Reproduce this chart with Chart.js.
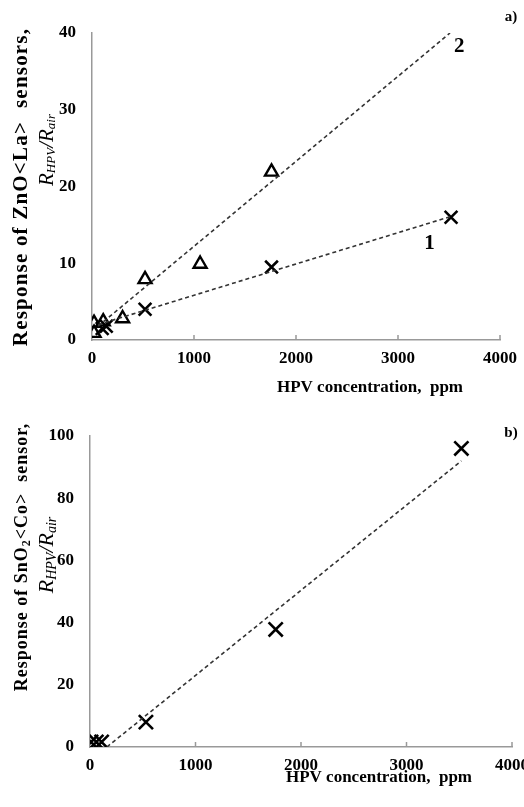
<!DOCTYPE html>
<html>
<head>
<meta charset="utf-8">
<script src="https://cdn.jsdelivr.net/npm/chart.js@4.4.0/dist/chart.umd.min.js"></script>
<style>
  body { margin: 0; background: #fff; overflow: hidden; }
  .wrap { position: relative; width: 524px; overflow: hidden; }
</style>
</head>
<body>
<div class="wrap" style="height:400px"><canvas id="chartA" width="524" height="400"></canvas></div>
<div class="wrap" style="height:407px"><canvas id="chartB" width="570" height="407"></canvas></div>
<script>
// panel a) ZnO<La> sensors
const xTicks = [0, 1000, 2000, 3000, 4000];
const a1X = [100, 140, 520, 1760, 3520];
const a1Y = [1.5, 1.8, 4.0, 9.5, 16.0];
const a2X = [20, 20, 110, 300, 520, 1060, 1760];
const a2Y = [0.9, 2.2, 2.4, 2.8, 7.9, 9.9, 21.9];
const fitA1X = [60, 3520];
const fitA1Y = [2.0, 16.1];
const fitA2X = [60, 3510];
const fitA2Y = [1.8, 40.0];

// panel b) SnO2<Co> sensor
const bX = [10, 60, 110, 530, 1760, 3520];
const bY = [1.6, 1.6, 1.6, 8.0, 37.8, 96.0];
const fitBX = [160, 3520];
const fitBY = [0, 92];

const SERIF = '"Liberation Serif", "DejaVu Serif", serif';

function pts(xs, ys) {
  return xs.map((x, i) => ({ x: x, y: ys[i] }));
}

function drawRich(ctx, parts, cx, cy, spacing) {
  // measure all parts then draw centered on (cx, cy)
  ctx.letterSpacing = (spacing || 0) + 'px';
  let total = 0;
  parts.forEach(p => {
    ctx.font = p.font;
    p.w = ctx.measureText(p.t).width;
    total += p.w;
  });
  let x = cx - total / 2;
  parts.forEach(p => {
    ctx.font = p.font;
    ctx.fillText(p.t, x, cy + (p.dy || 0));
    x += p.w;
  });
  ctx.letterSpacing = '0px';
}

function makePlugin(opts) {
  return {
    id: 'extras',
    afterDraw(chart) {
      const ctx = chart.ctx;
      const xs = chart.scales.x;
      const ys = chart.scales.y;
      ctx.save();
      // small inner tick marks on x axis
      ctx.strokeStyle = '#999';
      ctx.lineWidth = 1.5;
      xTicks.slice(1).forEach(v => {
        const px = xs.getPixelForValue(v);
        ctx.beginPath();
        ctx.moveTo(px, ys.bottom);
        ctx.lineTo(px, ys.bottom - 5);
        ctx.stroke();
      });

      ctx.fillStyle = '#000';
      ctx.textBaseline = 'middle';
      // x axis title
      drawRich(ctx, [{ t: 'HPV concentration,  ppm', font: 'bold 17px ' + SERIF }], opts.xTitleX, opts.xTitleY);

      // y axis title (rotated)
      ctx.save();
      ctx.translate(opts.yTitleX1, opts.yTitleY1);
      ctx.rotate(-Math.PI / 2);
      drawRich(ctx, opts.yLine1, 0, 0, opts.spacing);
      ctx.restore();
      ctx.save();
      ctx.translate(opts.yTitleX2, opts.yTitleY2);
      ctx.rotate(-Math.PI / 2);
      const it = 'italic ' + opts.rSize + 'px ' + SERIF;
      const sb = 'italic ' + Math.round(opts.rSize * 0.62) + 'px ' + SERIF;
      drawRich(ctx, [
        { t: 'R', font: it }, { t: 'HPV', font: sb, dy: 5 },
        { t: '/R', font: it }, { t: 'air', font: sb, dy: 5 }
      ], 0, 0);
      ctx.restore();

      // panel letter
      drawRich(ctx, [{ t: opts.letter, font: 'bold 15px ' + SERIF }], opts.letterX, opts.letterY);

      // curve labels
      (opts.curveLabels || []).forEach(l => {
        drawRich(ctx, [{ t: l.t, font: 'bold 21px ' + SERIF }], xs.getPixelForValue(l.x), ys.getPixelForValue(l.y));
      });
      ctx.restore();
    }
  };
}

function scalesFor(yMax, yStep, yWidth) {
  return {
    x: {
      type: 'linear', min: 0, max: 4000,
      afterBuildTicks: s => { s.ticks = xTicks.map(v => ({ value: v })); },
      afterFit: s => { s.height = 60; },
      grid: { display: false },
      border: { color: '#999', width: 1.5 },
      ticks: {
        color: '#000', padding: 0, maxRotation: 0,
        callback: v => String(v),
        font: { family: SERIF, size: 17, weight: 'bold' }
      }
    },
    y: {
      type: 'linear', min: 0, max: yMax,
      ticks: {
        stepSize: yStep, color: '#000', padding: 8,
        callback: v => String(v),
        font: { family: SERIF, size: 17, weight: 'bold' }
      },
      afterFit: s => { s.width = yWidth; },
      grid: { display: false },
      border: { color: '#999', width: 1.5 }
    }
  };
}

const fitStyle = {
  type: 'line', borderColor: '#333', borderWidth: 1.6, borderDash: [4, 3],
  pointRadius: 0, fill: false, showLine: true
};

new Chart(document.getElementById('chartA'), {
  type: 'scatter',
  data: {
    datasets: [
      Object.assign({ data: pts(fitA2X, fitA2Y) }, fitStyle),
      Object.assign({ data: pts(fitA1X, fitA1Y) }, fitStyle),
      {
        data: pts(a2X, a2Y), pointStyle: 'triangle', pointRadius: 7.5,
        borderColor: '#000', backgroundColor: 'rgba(0,0,0,0)', borderWidth: 2.4
      },
      {
        data: pts(a1X, a1Y), pointStyle: 'crossRot', pointRadius: 9,
        borderColor: '#000', borderWidth: 2.6
      }
    ]
  },
  options: {
    responsive: false, animation: false,
    layout: { padding: { top: 33, right: 24, left: 0, bottom: 0 } },
    plugins: { legend: { display: false }, tooltip: { enabled: false } },
    scales: scalesFor(40, 10, 92)
  },
  plugins: [makePlugin({
    xTitleX: 370, xTitleY: 388,
    yTitleX1: 22, yTitleY1: 187,
    yTitleX2: 47, yTitleY2: 150, rSize: 21,
    spacing: 1.2,
    yLine1: [{ t: 'Response of ZnO<La>  sensors,', font: 'bold 21px ' + SERIF }],
    letter: 'a)', letterX: 511, letterY: 17,
    curveLabels: [{ t: '1', x: 3310, y: 12.6 }, { t: '2', x: 3600, y: 38.2 }]
  })]
});

new Chart(document.getElementById('chartB'), {
  type: 'scatter',
  data: {
    datasets: [
      Object.assign({ data: pts(fitBX, fitBY) }, fitStyle),
      {
        data: pts(bX, bY), pointStyle: 'crossRot', pointRadius: 10,
        borderColor: '#000', borderWidth: 2.6
      }
    ]
  },
  options: {
    responsive: false, animation: false,
    layout: { padding: { top: 36, right: 58, left: 0, bottom: 0 } },
    plugins: { legend: { display: false }, tooltip: { enabled: false } },
    scales: scalesFor(100, 20, 90)
  },
  plugins: [makePlugin({
    xTitleX: 379, xTitleY: 378,
    yTitleX1: 22, yTitleY1: 157,
    yTitleX2: 47, yTitleY2: 155, rSize: 22,
    spacing: 1,
    yLine1: [
      { t: 'Response of SnO', font: 'bold 18px ' + SERIF },
      { t: '2', font: 'bold 12px ' + SERIF, dy: 5 },
      { t: '<Co>  sensor,', font: 'bold 18px ' + SERIF }
    ],
    letter: 'b)', letterX: 511, letterY: 33,
    curveLabels: []
  })]
});
</script>
</body>
</html>
